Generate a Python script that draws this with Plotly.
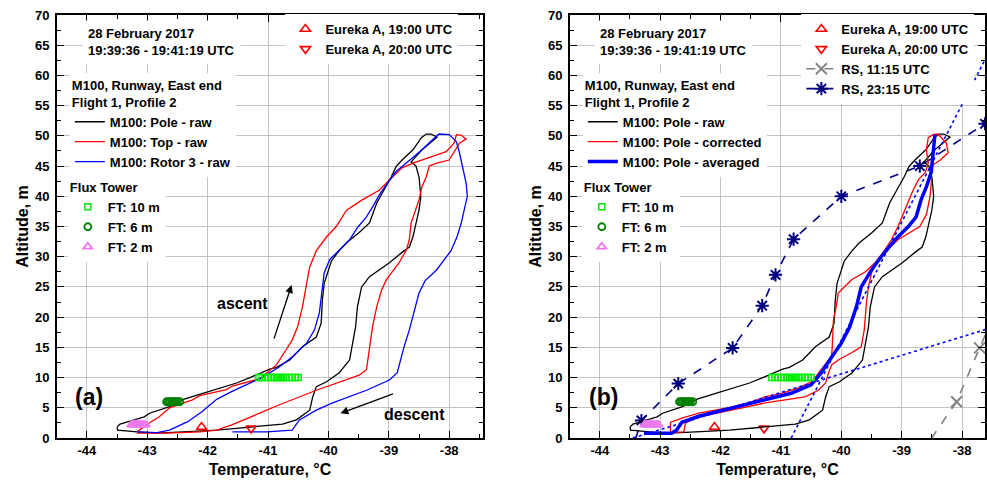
import plotly.graph_objects as go

# ---------------- data ----------------
POLE_RAW_T = [-43.50, -43.45, -43.05, -42.96, -42.63, -42.40, -42.08, -41.85, -41.52, -41.30,
              -40.97, -40.86, -40.64, -40.43, -40.20, -40.12, -40.10, -40.07, -39.95, -39.82,
              -39.70, -39.49, -39.32, -39.20, -39.10, -38.96, -38.88, -38.78, -38.60, -38.46,
              -38.38, -38.30, -38.20, -38.45, -38.63, -38.55, -38.50, -38.47, -38.50, -38.55,
              -38.60, -38.66, -38.77, -38.99, -39.32, -39.45, -39.52, -39.55, -39.60, -39.65,
              -39.82, -40.03, -40.20, -40.26, -40.31, -40.53, -40.76, -41.30, -41.85, -42.41,
              -42.84, -43.17, -43.49, -43.50]
POLE_RAW_ALT = [1.8, 2.3, 3.5, 4.1, 5.2, 6.4, 7.4, 8.1, 9.1, 10.0,
                11.4, 11.7, 12.9, 15.1, 16.7, 19.0, 22.8, 25.6, 29.3, 31.0,
                32.3, 34.0, 35.6, 38.9, 40.7, 43.2, 44.9, 46.0, 47.7, 49.7,
                50.3, 50.3, 49.8, 47.7, 45.7, 45.0, 43.2, 40.0, 37.7, 35.6,
                33.3, 31.6, 30.8, 29.0, 26.7, 25.0, 21.7, 18.4, 15.5, 12.9,
                10.8, 9.3, 8.5, 6.8, 4.6, 3.0, 2.3, 1.8, 1.3, 1.0,
                0.8, 1.0, 1.3, 1.8]

TOP_RAW_T = [-43.16, -42.98, -42.80, -42.63, -42.25, -42.13, -41.69, -41.59, -41.14, -40.86,
             -40.70, -40.60, -40.51, -40.43, -40.36, -40.31, -40.20, -40.03, -39.87, -39.70,
             -39.44, -39.16, -38.99, -38.78, -38.60, -38.33, -38.05, -37.92, -37.88, -37.80,
             -37.72, -37.83, -38.00, -38.21, -38.33, -38.38, -38.45, -38.50, -38.58, -38.63,
             -38.66, -38.71, -38.83, -39.04, -39.12, -39.20, -39.27, -39.32, -39.37, -39.49,
             -39.77, -40.20, -40.81, -41.22, -41.59, -41.85, -42.13, -42.68, -43.17]
TOP_RAW_ALT = [1.1, 2.4, 3.5, 5.0, 6.3, 7.0, 8.0, 8.6, 9.8, 12.1,
               14.6, 16.2, 18.4, 21.7, 25.6, 28.3, 31.0, 33.3, 35.0, 37.7,
               39.4, 41.0, 42.7, 44.7, 45.5, 46.4, 47.4, 48.8, 50.2, 50.1,
               49.5, 48.8, 46.0, 45.5, 45.0, 43.2, 41.6, 39.4, 37.2, 35.6,
               32.8, 31.1, 29.0, 26.2, 24.5, 21.7, 18.4, 14.6, 11.3, 10.4,
               9.4, 7.9, 5.5, 3.8, 2.2, 1.3, 1.0, 0.8, 0.8]

ROTOR3_RAW_T = [-43.16, -42.84, -42.63, -42.33, -42.10, -41.85, -41.62, -41.36, -41.10, -40.81,
                -40.60, -40.36, -40.23, -40.15, -40.10, -40.07, -39.98, -39.82, -39.65, -39.52,
                -39.37, -39.27, -39.16, -39.02, -38.88, -38.71, -38.45, -38.28, -38.17, -38.00,
                -37.88, -37.83, -37.78, -37.72, -37.70, -37.75, -37.80, -37.87, -37.97, -38.21,
                -38.40, -38.50, -38.58, -38.66, -38.75, -38.80, -38.86, -38.99, -39.37, -39.93,
                -40.20, -40.48, -40.60, -41.02, -41.59]
ROTOR3_RAW_ALT = [1.0, 0.9, 1.3, 2.7, 4.3, 6.4, 7.6, 8.8, 10.0, 11.8,
                  13.4, 15.7, 17.9, 20.7, 24.5, 27.3, 29.5, 31.1, 32.8, 34.8,
                  36.6, 38.2, 40.2, 42.2, 44.1, 45.5, 47.7, 49.3, 50.3, 50.2,
                  49.0, 47.2, 45.0, 42.2, 40.0, 37.7, 35.6, 33.3, 31.0, 27.8,
                  26.0, 24.0, 20.7, 17.9, 15.0, 13.0, 10.8, 9.6, 7.9, 5.8,
                  4.6, 3.0, 1.3, 1.0, 1.0]

POLE_CORR_T = [-42.83, -42.64, -42.36, -41.82, -41.54, -41.26, -40.99, -40.71, -40.49, -40.38,
               -40.26, -40.16, -40.15, -40.13, -40.08, -40.05, -39.83, -39.60, -39.44, -39.30,
               -39.17, -39.06, -38.94, -38.82, -38.72, -38.61, -38.56, -38.59, -38.56, -38.48,
               -38.40, -38.35, -38.26, -38.23, -38.36, -38.51, -38.51, -38.53, -38.59, -38.70,
               -38.90, -39.06, -39.27, -39.45, -39.50, -39.55, -39.58, -39.60, -39.62, -39.67,
               -39.83, -40.05, -40.16, -40.21, -40.26, -40.38, -40.60, -40.93, -41.26, -41.82,
               -42.36, -42.58, -42.61, -42.83, -42.83]
POLE_CORR_ALT = [2.6, 3.3, 4.1, 5.1, 5.8, 6.8, 7.4, 8.3, 9.3, 10.8,
                 12.4, 13.6, 15.1, 19.5, 22.0, 24.0, 26.2, 27.5, 29.0, 30.8,
                 32.8, 35.0, 37.9, 40.8, 42.8, 43.9, 45.5, 47.7, 49.7, 50.2,
                 50.3, 49.7, 48.8, 47.2, 46.0, 45.0, 42.2, 40.0, 37.0, 35.0,
                 33.8, 32.8, 30.8, 28.5, 27.3, 25.0, 22.8, 20.0, 17.9, 15.1,
                 14.1, 12.9, 12.1, 10.8, 9.1, 7.9, 6.8, 6.3, 5.8, 4.6,
                 3.5, 2.5, 1.0, 0.9, 2.6]

POLE_AVG_T = [-43.27, -42.81, -42.73, -42.64, -42.36, -41.82, -41.26, -40.83, -40.50, -40.33,
              -40.16, -40.00, -39.86, -39.75, -39.67, -39.50, -39.34, -39.11, -38.89, -38.76,
              -38.68, -38.59, -38.51, -38.48, -38.46, -38.45]
POLE_AVG_ALT = [0.8, 0.8, 1.3, 2.6, 3.6, 4.9, 6.3, 7.4, 8.8, 10.8,
                13.4, 15.7, 18.4, 21.7, 25.0, 27.8, 30.0, 32.8, 35.0, 36.6,
                39.4, 41.6, 44.0, 46.5, 48.8, 50.2]

FIT_STEEP_T = [-40.83, -37.60]
FIT_STEEP_ALT = [0.0, 63.0]
FIT_SHALLOW_T = [-43.45, -37.40]
FIT_SHALLOW_ALT = [0.0, 18.6]

EUREKA19_T = [-42.10]
EUREKA19_ALT = [1.8]
EUREKA20_T = [-41.28]
EUREKA20_ALT = [1.6]

FT10_T = [-41.15, -41.10, -41.05, -41.00, -40.95, -40.90, -40.86, -40.82, -40.78, -40.74,
          -40.70, -40.65, -40.60, -40.55, -40.50]
FT10_ALT = [10, 10, 10, 10, 10, 10, 10, 10, 10, 10, 10, 10, 10, 10, 10]
FT6_T = [-42.68, -42.65, -42.62, -42.59, -42.56, -42.53, -42.50, -42.46]
FT6_ALT = [6, 6, 6, 6, 6, 6, 6, 6]
FT2_T = [-43.26, -43.23, -43.20, -43.17, -43.14, -43.11, -43.07, -43.03]
FT2_ALT = [2.2, 2.2, 2.2, 2.2, 2.2, 2.2, 2.2, 2.2]

RS1115_T = [-38.85, -38.09, -37.71, -37.30]
RS1115_ALT = [-5.0, 6.0, 14.9, 24.0]
RS2315_T = [-43.50, -43.31, -42.70, -41.80, -41.31, -41.09, -40.79, -40.00, -38.70, -37.62]
RS2315_ALT = [-3.0, 2.9, 9.0, 14.9, 21.9, 27.0, 32.9, 40.0, 45.0, 52.0]

X_TICKS = [-44, -43, -42, -41, -40, -39, -38]
X_TICK_TEXT = ["-44", "-43", "-42", "-41", "-40", "-39", "-38"]

# ---------------- figure ----------------
W, H = 987, 483
M_TOP, M_BOT = 15, 45
FONT = "Liberation Sans, Arial, sans-serif"
RED = "#ff0000"
BLUE = "#0000ff"
LIME = "#00ee00"
DGREEN = "#008000"
VIOLET = "#ee77ee"
NAVY = "#000080"
GRAY = "#808080"


def px(x):
    return x / W


def py(y):
    # pixel row -> paper fraction (paper spans the plot area between margins)
    return (H - M_BOT - y) / (H - M_BOT - M_TOP)


fig = go.Figure()


def add(panel, **kw):
    xa, ya = ("x", "y") if panel == 1 else ("x2", "y2")
    fig.add_trace(go.Scatter(xaxis=xa, yaxis=ya, **kw))


# ----- panel (a) -----
add(1, x=POLE_RAW_T, y=POLE_RAW_ALT, mode="lines", line=dict(color="black", width=1.3),
    name="M100: Pole - raw", legend="legend2")
add(1, x=TOP_RAW_T, y=TOP_RAW_ALT, mode="lines", line=dict(color=RED, width=1.3),
    name="M100: Top - raw", legend="legend2")
add(1, x=ROTOR3_RAW_T, y=ROTOR3_RAW_ALT, mode="lines", line=dict(color=BLUE, width=1.3),
    name="M100: Rotor 3 - raw", legend="legend2")
add(1, x=FT10_T, y=FT10_ALT, mode="markers",
    marker=dict(symbol="square-open", size=6, color=LIME, line=dict(width=1.5)),
    name="FT: 10 m", legend="legend3")
add(1, x=FT6_T, y=FT6_ALT, mode="markers",
    marker=dict(symbol="circle-open", size=7, color=DGREEN, line=dict(width=1.8)),
    name="FT: 6 m", legend="legend3")
add(1, x=FT2_T, y=FT2_ALT, mode="markers",
    marker=dict(symbol="triangle-up-open", size=8, color=VIOLET, line=dict(width=1.8)),
    name="FT: 2 m", legend="legend3")
add(1, x=EUREKA19_T, y=EUREKA19_ALT, mode="markers",
    marker=dict(symbol="triangle-up-open", size=9, color=RED, line=dict(width=1.6)),
    name="Eureka A, 19:00 UTC", legend="legend")
add(1, x=EUREKA20_T, y=EUREKA20_ALT, mode="markers",
    marker=dict(symbol="triangle-down-open", size=9, color=RED, line=dict(width=1.6)),
    name="Eureka A, 20:00 UTC", legend="legend")

# ----- panel (b) -----
add(2, x=EUREKA19_T, y=EUREKA19_ALT, mode="markers",
    marker=dict(symbol="triangle-up-open", size=9, color=RED, line=dict(width=1.6)),
    name="Eureka A, 19:00 UTC", legend="legend4")
add(2, x=EUREKA20_T, y=EUREKA20_ALT, mode="markers",
    marker=dict(symbol="triangle-down-open", size=9, color=RED, line=dict(width=1.6)),
    name="Eureka A, 20:00 UTC", legend="legend4")
add(2, x=RS1115_T, y=RS1115_ALT, mode="lines+markers",
    line=dict(color=GRAY, width=1.6, dash="dash"),
    marker=dict(symbol="x-thin-open", size=11, color=GRAY, line=dict(width=1.8, color=GRAY)),
    name="RS, 11:15 UTC", legend="legend4")
add(2, x=RS2315_T, y=RS2315_ALT, mode="lines+markers",
    line=dict(color=NAVY, width=1.6, dash="dash"),
    marker=dict(symbol="asterisk-open", size=11, color=NAVY, line=dict(width=2, color=NAVY)),
    name="RS, 23:15 UTC", legend="legend4")
add(2, x=POLE_RAW_T, y=POLE_RAW_ALT, mode="lines", line=dict(color="black", width=1.3),
    name="M100: Pole - raw", legend="legend6")
add(2, x=POLE_CORR_T, y=POLE_CORR_ALT, mode="lines", line=dict(color=RED, width=1.3),
    name="M100: Pole - corrected", legend="legend6")
add(2, x=POLE_AVG_T, y=POLE_AVG_ALT, mode="lines", line=dict(color=BLUE, width=3.5),
    name="M100: Pole - averaged", legend="legend6")
add(2, x=FIT_STEEP_T, y=FIT_STEEP_ALT, mode="lines", line=dict(color=BLUE, width=1.6, dash="dot"),
    showlegend=False)
add(2, x=FIT_SHALLOW_T, y=FIT_SHALLOW_ALT, mode="lines", line=dict(color=BLUE, width=1.6, dash="dot"),
    showlegend=False)
add(2, x=FT10_T, y=FT10_ALT, mode="markers",
    marker=dict(symbol="square-open", size=6, color=LIME, line=dict(width=1.5)),
    name="FT: 10 m", legend="legend7")
add(2, x=FT6_T, y=FT6_ALT, mode="markers",
    marker=dict(symbol="circle-open", size=7, color=DGREEN, line=dict(width=1.8)),
    name="FT: 6 m", legend="legend7")
add(2, x=FT2_T, y=FT2_ALT, mode="markers",
    marker=dict(symbol="triangle-up-open", size=8, color=VIOLET, line=dict(width=1.8)),
    name="FT: 2 m", legend="legend7")

tickfont = dict(family=FONT, size=13, color="black", weight="bold")
titlefont = dict(family=FONT, size=16, color="black", weight="bold")


def xaxis(domain, rng, anchor):
    return dict(domain=domain, range=rng, anchor=anchor,
                tickmode="array", tickvals=X_TICKS, ticktext=X_TICK_TEXT,
                ticks="inside", ticklen=7, tickwidth=1.3, tickcolor="black",
                minor=dict(tickmode="linear", tick0=0, dtick=0.5, ticks="inside",
                           ticklen=4, tickwidth=1.2, tickcolor="black", showgrid=False),
                showline=True, linecolor="black", linewidth=1.5, mirror="allticks",
                showgrid=True, gridcolor="#c4c4c4", gridwidth=1,
                zeroline=False, tickfont=tickfont,
                title=dict(text="Temperature, °C", font=titlefont, standoff=6))


def yaxis(anchor):
    return dict(domain=[0, 1], range=[0, 70], anchor=anchor,
                tickmode="linear", tick0=0, dtick=5,
                ticks="inside", ticklen=7, tickwidth=1.3, tickcolor="black",
                minor=dict(tickmode="linear", tick0=0, dtick=2.5, ticks="inside",
                           ticklen=4, tickwidth=1.2, tickcolor="black", showgrid=False),
                showline=True, linecolor="black", linewidth=1.5, mirror="allticks",
                showgrid=True, gridcolor="#c4c4c4", gridwidth=1,
                zeroline=False, tickfont=tickfont, ticklabelstandoff=3,
                title=dict(text="Altitude, m", font=titlefont, standoff=2))


legfont = dict(family=FONT, size=13, color="black", weight="bold")


def legend(x, y, title=None):
    d = dict(x=px(x), y=py(y), xanchor="left", yanchor="top", bgcolor="white",
             borderwidth=0, font=legfont, tracegroupgap=0, itemwidth=30)
    if title:
        d["title"] = dict(text=title, font=legfont)
    return d


fig.update_layout(
    width=W, height=H,
    margin=dict(l=0, r=0, t=M_TOP, b=M_BOT),
    paper_bgcolor="white", plot_bgcolor="white",
    font=dict(family=FONT, color="black"),
    xaxis=xaxis([px(57), px(484)], [-44.496, -37.44], "y"),
    yaxis=yaxis("x"),
    xaxis2=xaxis([px(571), 1.0], [-44.496, -37.62], "y2"),
    yaxis2=yaxis("x2"),
    legend=legend(286, 14),
    legend2=legend(70, 73, "M100, Runway, East end<br>Flight 1, Profile 2"),
    legend3=legend(68, 175, "Flux Tower"),
    legend4=legend(803, 14),
    legend6=legend(584, 73, "M100, Runway, East end<br>Flight 1, Profile 2"),
    legend7=legend(583, 175, "Flux Tower"),
)

annfont = dict(family=FONT, size=13, color="black", weight="bold")
for x0 in (82, 595):
    fig.add_annotation(xref="paper", yref="paper", x=px(x0), y=py(42), xanchor="left",
                       yanchor="middle", align="left", showarrow=False,
                       text="28 February 2017<br>19:39:36 - 19:41:19 UTC",
                       font=annfont, bgcolor="white", borderpad=5)

bigfont = dict(family=FONT, size=23, color="black", weight="bold")
midfont = dict(family=FONT, size=16, color="black", weight="bold")
for (tx, ty, txt, fnt) in ((89, 397, "(a)", bigfont), (605, 397, "(b)", bigfont),
                           (243, 303, "ascent", midfont), (415, 414, "descent", midfont)):
    fig.add_annotation(xref="paper", yref="paper", x=px(tx), y=py(ty), xanchor="center",
                       yanchor="middle", showarrow=False, text=txt, font=fnt)

# arrows
fig.add_annotation(xref="x", yref="y", x=-40.61, y=25.3, ax=-18, ay=55, text="",
                   showarrow=True, arrowhead=2, arrowsize=1.2, arrowwidth=1.3, arrowcolor="black")
fig.add_annotation(xref="x", yref="y", x=-39.80, y=4.1, ax=54, ay=-20, text="",
                   showarrow=True, arrowhead=2, arrowsize=1.2, arrowwidth=1.3, arrowcolor="black")

fig.write_html("out.html")
